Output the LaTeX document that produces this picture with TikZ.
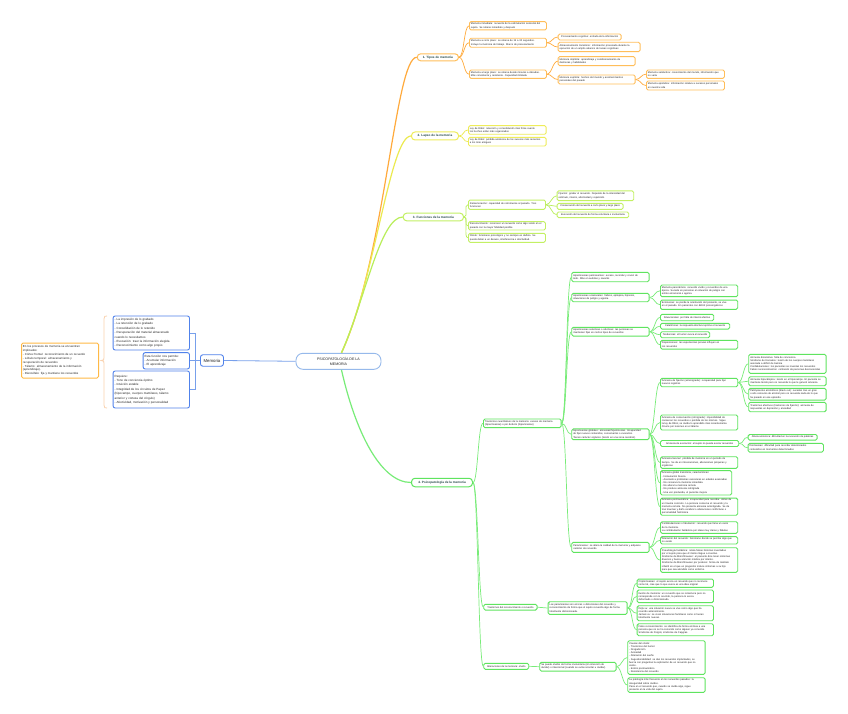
\documentclass[tikz,border=0pt]{standalone}
\usepackage{fontspec}
\setmainfont{Liberation Sans}
\definecolor{orB}{RGB}{255,190,90}
\definecolor{orL}{RGB}{255,170,60}
\definecolor{yeB}{RGB}{238,236,90}
\definecolor{yeL}{RGB}{236,234,80}
\definecolor{lgB}{RGB}{195,240,100}
\definecolor{lgL}{RGB}{185,238,90}
\definecolor{grB}{RGB}{95,228,95}
\definecolor{grL}{RGB}{120,236,120}
\definecolor{blB}{RGB}{80,130,235}
\definecolor{blL}{RGB}{120,160,235}
\definecolor{ctB}{RGB}{150,185,235}
\definecolor{lfB}{RGB}{255,185,70}
\definecolor{peach}{RGB}{250,210,175}
\definecolor{txt}{RGB}{35,35,35}
\definecolor{ttx}{RGB}{35,70,70}
\newcommand\rf{\fontsize{2.5}{3.2}\selectfont}
\newcommand\lf{\fontsize{3.0}{4.4}\selectfont}
\newcommand\tf{\fontsize{3.1}{3.6}\selectfont\bfseries}
\tikzset{
 base/.style={rounded corners=1.5pt, line width=0.9pt, fill=white, align=left, inner xsep=1.5pt, inner ysep=1pt, anchor=west, font=\rf, text=txt},
 ob/.style={base, draw=orB}, yb/.style={base, draw=yeB}, lb/.style={base, draw=lgB}, gb/.style={base, draw=grB},
 bb/.style={base, draw=blB, font=\lf, inner ysep=1.5pt, rounded corners=2pt, line width=0.9pt},
 one/.style={align=center},
 ttl/.style={rounded corners=3.5pt, line width=1pt, fill=white, anchor=west, font=\tf, text=ttx, inner sep=0.5pt, align=center},
 lk/.style={out=0,in=180,distance=5pt},
 ol/.style={draw=orL, line width=0.7pt}, yl/.style={draw=yeL, line width=0.7pt},
 ll/.style={draw=lgL, line width=0.7pt}, gl/.style={draw=grL, line width=0.7pt},
 bl/.style={draw=blL, line width=0.8pt},
}
\begin{document}
\begin{tikzpicture}[x=1pt,y=-1pt]
\path[use as bounding box, fill=white] (0,0) rectangle (848,714);

% ---------- titles (first, so central lines go under the centre node) ----------
\node[ttl, draw=orB, minimum width=41.3pt, minimum height=7pt] (T1) at (416.7,57.3) {1. Tipos de memoria};
\node[ttl, draw=yeB, minimum width=47pt, minimum height=8pt] (T2) at (411,136) {2. Lapso de la memoria};
\node[ttl, draw=lgB, minimum width=60.3pt, minimum height=7.7pt] (T3) at (402.7,217) {3. Funciones de la memoria};
\node[ttl, draw=grB, minimum width=61pt, minimum height=8.5pt] (T4) at (411,482.5) {4. Psicopatología de la memoria};

% ---------- centre and left ----------
\node[draw=ctB, line width=0.9pt, rounded corners=7pt, fill=white, anchor=west, minimum width=85pt, minimum height=16pt, align=center, font=\fontsize{3.6}{4.4}\selectfont, text=txt] (ctr) at (295.5,361.3) {PSICOPATOLOGÍA DE LA\\MEMORIA};
\draw[orL, line width=1.2pt] ([xshift=3pt]ctr.north) .. controls (385,260) and (395,57.3) .. (T1.west);
\draw[yeL, line width=1.2pt] ([xshift=3pt]ctr.north) .. controls (375,280) and (390,136) .. (T2.west);
\draw[lgL, line width=1.2pt] ([xshift=3pt]ctr.north) .. controls (365,300) and (380,217) .. (T3.west);
\draw[grL, line width=1.2pt] ([xshift=3pt]ctr.south) .. controls (355,430) and (380,482.5) .. (T4.west);

\node[draw=blB, line width=0.9pt, rounded corners=2.5pt, fill=white, anchor=west, minimum width=23pt, minimum height=11.5pt, inner sep=0.5pt, font=\fontsize{4.3}{5}\selectfont, text=txt] (mem) at (200,360.5) {Memoria};
\node[bb, text width=73.3pt, minimum height=34pt] (B1) at (112.7,333) {- La impresión de lo grabado\\- La retención de lo grabado\\- Consolidación de lo retenido\\- Recuperación del material almacenado\\cuando lo necesitamos\\- Evocación: traer la información elegida\\- Reconocimiento como algo propio};
\node[bb, text width=43.3pt, minimum height=16.3pt] (B2) at (142.7,360.8) {Esta función nos permite:\\- Acumular información\\- El aprendizaje};
\node[bb, text width=73.3pt, minimum height=37pt] (B3) at (112.7,389.5) {Requiere:\\- Tono de conciencia óptimo\\- Intuición estable\\- Integridad de los circuitos de Papez\\(hipocampo, cuerpos mamilares, tálamo\\anterior y corteza del cíngulo)\\- Afectividad, motivación y personalidad};
\node[base, draw=lfB, line width=1pt, text width=74pt, minimum height=35pt, inner ysep=1.5pt, font=\fontsize{2.9}{3.85}\selectfont] (LB) at (21,360.5) {En los procesos de memoria se encuentran\\implicados:\\- Córtex frontal: reconocimiento de un recuerdo\\- Lóbulo temporal: almacenamiento y\\recuperación de recuerdos\\- Tálamo: almacenamiento de la información\\(aprendizaje).\\- Diencéfalo: fija y mantiene los recuerdos};
\draw[peach, line width=0.8pt] (107,316) .. controls (104.5,316) .. (104,319) -- (104,357.5) .. controls (104,360) .. (101,360.5) .. controls (104,361) .. (104,363.5) -- (104,405) .. controls (104.5,408) .. (107,408);
\draw[bl] (mem.east) -- (ctr.west);
\foreach \b in {B1,B2,B3} \draw[bl] (mem.west) -- ++(-5,0) |- (\b.east);

% ---------- 1. Tipos ----------
\node[ob, text width=74pt, minimum height=8.3pt] (c1a) at (469,25.8) {Memoria inmediata: recuerdo de la estimulación sensorial del\\sujeto. Se retiene inmediato y después};
\node[ob, text width=74pt, minimum height=9pt] (c1b) at (469,42.8) {Memoria a corto plazo: se retiene de 15 a 30 segundos.\\Incluye la memoria de trabajo. Marco de procesamiento};
\node[ob, text width=74pt, minimum height=8.3pt] (c1c) at (469,74.2) {Memoria a largo plazo: se retiene desde minutos a décadas.\\Más consistente y resistente. Capacidad ilimitada};
\node[ob, one, minimum width=63pt, minimum height=6pt] (c1b1) at (557.7,37) {Procesamiento cognitivo: entrada de la información};
\node[ob, text width=79pt, minimum height=9.4pt] (c1b2) at (557.7,47) {Almacenamiento transitorio: información procesada durante la\\ejecución de un amplio abanico de tareas cognitivas};
\node[ob, text width=74pt, minimum height=9pt] (c1c1) at (557.7,61.2) {Memoria implícita: aprendizaje y condicionamiento de\\destrezas y habilidades};
\node[ob, text width=74pt, minimum height=9pt] (c1c2) at (557.7,79.5) {Memoria explícita: hechos del mundo y acontecimientos\\personales del pasado};
\node[ob, text width=75pt, minimum height=8.3pt] (c1c2a) at (646,74.2) {Memoria semántica: conocimiento del mundo, información que\\no varía};
\node[ob, text width=75pt, minimum height=9pt] (c1c2b) at (646,85.5) {Memoria episódica: información relativa a sucesos personales\\en nuestra vida};
\foreach \c in {c1a,c1b,c1c} \draw[ol] (T1.east) to[lk] (\c.west);
\foreach \c in {c1b1,c1b2} \draw[ol] (c1b.east) to[lk] (\c.west);
\foreach \c in {c1c1,c1c2} \draw[ol] (c1c.east) to[lk] (\c.west);
\foreach \c in {c1c2a,c1c2b} \draw[ol] (c1c2.east) to[lk] (\c.west);

% ---------- 2. Lapso ----------
\node[yb, text width=74.7pt, minimum height=8.6pt] (c2a) at (468,130) {Ley de Ribot: retención y consolidación más firme cuanto\\los hechos están más organizados};
\node[yb, text width=74.7pt, minimum height=8.7pt] (c2b) at (468,141.7) {Ley de Ribot: pérdida amnésica de los sucesos más recientes\\a los más antiguos};
\foreach \c in {c2a,c2b} \draw[yl] (T2.east) to[lk] (\c.west);

% ---------- 3. Funciones ----------
\node[lb, text width=74pt, minimum height=9.3pt] (c3a) at (468,204.7) {Rememoración: capacidad de retrotraerse al pasado. Tres\\funciones:};
\node[lb, text width=74pt, minimum height=8.3pt] (c3b) at (468,225.8) {Reconocimiento: reconocer un recuerdo como algo vivido en el\\pasado con la mayor fidelidad posible};
\node[lb, text width=74pt, minimum height=9pt] (c3c) at (468,237.8) {Olvido: fenómeno psicológico y no siempre es dañino. Se\\puede deber a un desuso, interferencia o afectividad.};
\node[lb, text width=73.6pt, minimum height=9.7pt] (c3a1) at (556.7,195.8) {Fijación: grabar el recuerdo. Depende de la intensidad del\\estímulo, interés, afectividad y repetición.};
\node[lb, one, minimum width=66pt, minimum height=6pt] (c3a2) at (556.7,206.3) {Conservación del recuerdo a corto plazo y largo plazo};
\node[lb, one, minimum width=71.6pt, minimum height=5.7pt] (c3a3) at (556.7,214.8) {Evocación del recuerdo de forma voluntaria o involuntaria};
\foreach \c in {c3a,c3b,c3c} \draw[ll] (T3.east) to[lk] (\c.west);
\foreach \c in {c3a1,c3a2,c3a3} \draw[ll] (c3a.east) to[lk] (\c.west);

% ---------- 4. Psicopatologia ----------
\node[gb, text width=74.7pt, minimum height=8.7pt] (L1a) at (483,423.3) {Trastornos cuantitativos de la memoria: exceso de memoria\\(hipermnesias) o por defecto (hipomnesias)};
\node[gb, one, minimum width=53.3pt, minimum height=5.7pt] (L1b) at (483.3,607.2) {Trastornos del reconocimiento o recuerdo};
\node[gb, one, minimum width=45pt, minimum height=6pt] (L1c) at (483.3,666.3) {Alteraciones de la memoria: olvido};
\foreach \c in {L1a,L1b,L1c} \draw[gl] (T4.east) to[lk] (\c.west);

\node[gb, text width=74.4pt, minimum height=9.4pt] (H1) at (571.3,277) {Hipermnesias permanentes: exceso, recordar y revivir de\\todo. Más en autistas y savants};
\node[gb, text width=74.4pt, minimum height=8.4pt] (H2) at (571.3,297.5) {Hipermnesias ocasionales: fiebres, epilepsia, hipnosis,\\situaciones de peligro y agonía.};
\node[gb, text width=74.4pt, minimum height=8.7pt] (H3) at (571.3,331.7) {Hipermnesias selectivas o afectivas: las personas se\\mantienen fijas en ciertos tipos de recuerdos};
\node[gb, text width=74.4pt, minimum height=10pt] (H4) at (571.3,434.3) {Hipomnesias globales: amnesias/hipomnesias. Incapacidad\\de fijar nuevos contenidos, conservarlos o evocarlos.\\Tienen carácter orgánico (lesión en una zona cerebral).};
\node[gb, text width=74.4pt, minimum height=10pt] (H5) at (571.3,547.3) {Paramnesias: se altera la calidad de la memoria y adquiere\\carácter de recuerdo};
\foreach \c in {H1,H2,H3,H4,H5} \draw[gl] (L1a.east) to[lk] (\c.west);

\node[gb, text width=74.3pt, minimum height=11.7pt] (H2a) at (660,290.8) {Memoria panorámica: recuerdo vívido y recuerdos de una\\época. Sucede en personas en situación de peligro con\\estrés emocional o agonía};
\node[gb, text width=74.3pt, minimum height=9.3pt] (H2b) at (660,304.7) {Ecmnesias: se pierde la orientación del presente, se vive\\en el pasado. En pacientes con déficit psicoorgánicos};
\foreach \c in {H2a,H2b} \draw[gl] (H2.east) to[lk] (\c.west);

\node[gb, one, minimum width=53.3pt, minimum height=6.4pt] (H3a) at (660,317.5) {Situacionales: por falta de interés afectivo};
\node[gb, one, minimum width=69.3pt, minimum height=5.7pt] (H3b) at (660,326.2) {Catatímicas: la respuesta afectiva reprime el recuerdo};
\node[gb, one, minimum width=49.3pt, minimum height=6pt] (H3c) at (660,334.7) {Tendencias: el humor evoca el recuerdo};
\node[gb, text width=74.3pt, minimum height=8.7pt] (H3d) at (660,344.7) {Disposiciones: las experiencias previas influyen en\\los recuerdos};
\foreach \c in {H3a,H3b,H3c,H3d} \draw[gl] (H3.east) to[lk] (\c.west);

\node[gb, text width=74.3pt, minimum height=8.4pt] (H4a) at (660,382.5) {Amnesia de fijación (anterógrada): incapacidad para fijar\\nuevos registros};
\node[gb, text width=74.3pt, minimum height=15pt] (H4b) at (660,422.5) {Amnesia de conservación (retrógrada): imposibilidad de\\conservar los recuerdos o pérdida de los mismos. Sigue\\la ley de Ribot, se olvida lo aprendido más recientemente.\\Ocurre por lesiones en el tálamo};
\node[gb, one, minimum width=78.3pt, minimum height=6pt] (H4c) at (660,443.5) {Amnesia de evocación: el sujeto no puede evocar recuerdos};
\node[gb, text width=74.3pt, minimum height=11.6pt] (H4d) at (660,462.5) {Amnesia lacunar: pérdida de memoria en un periodo de\\tiempo. Se da en intoxicaciones, alteraciones psíquicas y\\orgánicas};
\node[gb, text width=68.3pt, minimum height=24.3pt] (H4e) at (660,482.8) {Amnesia global transitoria, características:\\- Instauración brusca\\- Asociado a problemas vasculares en edades avanzadas\\- No conserva la memoria inmediata\\- No altera la memoria remota\\- No produce amnesia retrógrada\\- Una vez producida, el paciente mejora};
\node[gb, text width=74.3pt, minimum height=16.7pt] (H4f) at (660,506.7) {Amnesia postraumática: incapacidad para recordar. Antes de\\un trauma concreto. La persona conserva el recuerdo y la\\memoria remota. No presenta amnesia anterógrada. Se da\\tras traumas y daño cerebral o alteraciones conflictivas o\\personalidad histriónica};
\foreach \c in {H4a,H4b,H4c,H4d,H4e,H4f} \draw[gl] (H4.east) to[lk] (\c.west);

\node[gb, text width=74.4pt, minimum height=19pt] (H4a1) at (748.3,363.8) {Amnesia disociativa: falta de conciencia\\Síndrome de Korsakov: lesión de los cuerpos mamilares\\asociada a déficit de tiamina\\Confabulaciones: los pacientes se inventan los recuerdos\\Falsos reconocimientos: confusión de personas desconocidas};
\node[gb, text width=74.4pt, minimum height=9pt] (H4a2) at (748.3,381.2) {Amnesia hipocámpica: lesión en el hipocampo. El paciente se\\mantiene lúcido pero no recuerda lo que le generó amnesia};
\node[gb, text width=74.4pt, minimum height=11.7pt] (H4a3) at (748.3,394.2) {Palimpsestos alcohólicos (black out): suceden tras un gran\\o alto consumo de alcohol pero no recuerda nada de lo que\\ha pasado en ese episodio.};
\node[gb, text width=74.4pt, minimum height=9.4pt] (H4a4) at (748.3,407) {Trastornos afectivos (trastornos de fijación): amnesia de\\respuestas en depresión y ansiedad};
\foreach \c in {H4a1,H4a2,H4a3,H4a4} \draw[gl] (H4a.east) to[lk] (\c.west);

\node[gb, one, minimum width=69pt, minimum height=5.7pt] (H4c1) at (747.7,437.3) {Afasia amnésica: dificultad en la evocación de palabras};
\node[gb, text width=72.3pt, minimum height=8.7pt] (H4c2) at (747.7,447.7) {Dismnesias: dificultad para recordar determinados\\contenidos en momentos determinados};
\foreach \c in {H4c1,H4c2} \draw[gl] (H4c.east) to[lk] (\c.west);

\node[gb, text width=74.3pt, minimum height=11.6pt] (H5a) at (660,527.5) {Confabulaciones o fabulación: recuerdo que llena un vacío\\de la memoria.\\La confabulación fantástica por ideas muy claras y fábulas};
\node[gb, text width=74.3pt, minimum height=7.3pt] (H5b) at (660,540.3) {Alteración del recuerdo: fenómeno donde se percibe algo que\\no existe};
\node[gb, text width=74.3pt, minimum height=24.6pt] (H5c) at (660,560) {Pseudología fantástica: relata falsas historias inventadas\\por el sujeto para que él mismo llegue a creerlas.\\Síndrome de Münchhausen: el paciente dice tener síntomas\\diversos y busca atención médica por interés.\\Síndrome de Münchhausen por poderes: forma de maltrato\\infantil en el que un progenitor induce síntomas a su hijo\\para que sea atendido como enfermo.};
\foreach \c in {H5a,H5b,H5c} \draw[gl] (H5.east) to[lk] (\c.west);

\node[gb, text width=76pt, minimum height=12.6pt] (L1b1) at (547.7,608) {Las paramnesias son errores o distorsiones del recuerdo y\\reconocimiento de forma que el sujeto recuerda algo de forma\\totalmente distorsionada.};
\draw[gl] (L1b.east) to[lk] (L1b1.west);
\node[gb, text width=73.3pt, minimum height=8.3pt] (L1b1a) at (636.7,583.2) {Criptomnesias: el sujeto evoca un recuerdo que no reconoce\\como tal, cree que lo que evoca es una idea original};
\node[gb, text width=73.3pt, minimum height=12.7pt] (L1b1b) at (636.7,596.3) {Ilusión de memoria: un recuerdo que se rememora pero no\\corresponde con lo ocurrido, la persona lo evoca\\deformado o distorsionado.};
\node[gb, text width=73.3pt, minimum height=15pt] (L1b1c) at (636.7,613.2) {Déjà vu: una situación nueva se vive como algo que ha\\ocurrido anteriormente.\\Jamais vu: se viven situaciones familiares como si fueran\\totalmente nuevas.};
\node[gb, text width=73.3pt, minimum height=12pt] (L1b1d) at (636.7,629.7) {Falso reconocimiento: se identifica de forma errónea a una\\persona que no se ha conocido como alguien ya conocido.\\Síndrome de Frégoli, síndrome de Capgras.};
\foreach \c in {L1b1a,L1b1b,L1b1c,L1b1d} \draw[gl] (L1b1.east) to[lk] (\c.west);

\node[gb, text width=73.4pt, minimum height=8.7pt] (L1c1) at (539.3,666.7) {Se puede olvidar de forma involuntaria (sin intención de\\olvidar) o intencional (cuando se evita recordar u olvidar).};
\draw[gl] (L1c.east) to[lk] (L1c1.west);
\node[gb, text width=74.4pt, minimum height=33.6pt] (L1c1a) at (627.3,657.5) {Causas del olvido:\\- Trastornos del humor\\- Drogadicción\\- Ansiedad\\- Alteración del sueño\\- Sugestionabilidad: se dan los recuerdos implantados, se\\fuerza con preguntas la explicación de un recuerdo que no\\existe.\\- Estrés postraumático\\- Resistencia del recuerdo};
\node[gb, text width=74.4pt, minimum height=14.6pt] (L1c1b) at (627.3,685) {La patología más frecuente en los recuerdos pasados: la\\inseguridad sobre olvidos.\\Pasa en el recuerdo que, cuando se olvida algo, sigue\\presente en la vida del sujeto.};
\foreach \c in {L1c1a,L1c1b} \draw[gl] (L1c1.east) to[lk] (\c.west);
\end{tikzpicture}
\end{document}
